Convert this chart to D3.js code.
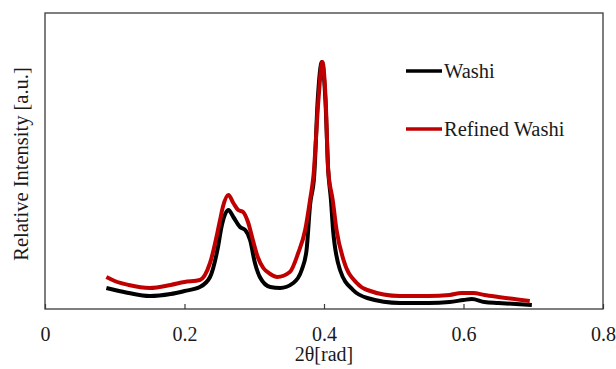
<!DOCTYPE html>
<html>
<head>
<meta charset="utf-8">
<script src="https://cdn.jsdelivr.net/npm/d3@7"></script>
<style>
  body { margin: 0; background: #fff; }
  svg text { font-family: "Times New Roman", "Liberation Serif", "DejaVu Serif", serif !important; fill: #1a1a1a; }
</style>
</head>
<body>
<div id="chart"></div>
<script>
var svgWidth = 616;
var svgHeight = 369;

var margin = { top: 13, right: 13, bottom: 60, left: 45 };
var width = svgWidth - margin.left - margin.right;
var height = svgHeight - margin.top - margin.bottom;

var serif = "'Times New Roman', 'Liberation Serif', 'DejaVu Serif', serif";

// 2θ values
var washiX = [0.088, 0.10, 0.12, 0.15, 0.18, 0.20, 0.222, 0.2366, 0.248, 0.253, 0.263, 0.270, 0.2796, 0.287, 0.294, 0.301, 0.308, 0.323, 0.337, 0.356, 0.368, 0.375, 0.380, 0.386, 0.391, 0.397, 0.402, 0.406, 0.410, 0.413, 0.423, 0.4416, 0.462, 0.509, 0.55, 0.58, 0.60, 0.612, 0.63, 0.65, 0.698];
var washiY = [21, 19, 16, 13, 15, 18, 22, 32, 62, 82, 99, 92, 82, 79, 69, 46, 32, 22, 21, 26, 39, 59, 104, 134, 209, 247, 209, 139, 109, 79, 39, 19, 11, 6, 6, 7, 9, 10, 7, 6, 4];

var refinedX = [0.088, 0.10, 0.12, 0.15, 0.18, 0.20, 0.222, 0.2366, 0.251, 0.255, 0.263, 0.270, 0.277, 0.284, 0.291, 0.298, 0.305, 0.313, 0.323, 0.333, 0.351, 0.363, 0.373, 0.380, 0.385, 0.392, 0.3976, 0.4024, 0.406, 0.4125, 0.418, 0.428, 0.447, 0.462, 0.509, 0.55, 0.58, 0.597, 0.614, 0.63, 0.65, 0.695];
var refinedY = [32, 28, 24, 21, 24, 27, 29, 46, 89, 102, 114, 106, 99, 97, 87, 69, 52, 41, 35, 32, 37, 56, 79, 109, 134, 209, 247, 209, 139, 109, 79, 49, 26, 19, 13, 13, 14, 16, 16, 14, 12, 8];

var xTicks = [0, 0.2, 0.4, 0.6, 0.8];
var seriesNames = ["Washi", "Refined Washi"];
var seriesColors = ["#000000", "#c00000"];

var svg = d3.select("#chart")
  .append("svg")
  .attr("width", svgWidth)
  .attr("height", svgHeight)
  .style("font-family", serif);

var chartGroup = svg.append("g")
  .attr("transform", `translate(${margin.left}, ${margin.top})`);

var xLinearScale = d3.scaleLinear().domain([0, 0.8]).range([0, width]);
var yLinearScale = d3.scaleLinear().domain([0, 296]).range([height, 0]);

// series
var series = [
  d3.zip(washiX, washiY),
  d3.zip(refinedX, refinedY)
];

var line = d3.line()
  .x(d => xLinearScale(d[0]))
  .y(d => yLinearScale(d[1]))
  .curve(d3.curveMonotoneX);

series.forEach(function(s, i) {
  chartGroup.append("path")
    .datum(s)
    .attr("fill", "none")
    .attr("stroke", seriesColors[i])
    .attr("stroke-width", 4)
    .attr("stroke-linejoin", "round")
    .attr("d", line);
});

// frame
chartGroup.append("rect")
  .attr("width", width)
  .attr("height", height)
  .attr("fill", "none")
  .attr("stroke", "#3a3a3a")
  .attr("stroke-width", 1.3);

// bottom axis, ticks inside
var bottomAxis = d3.axisBottom(xLinearScale)
  .tickValues(xTicks)
  .tickSize(-5)
  .tickFormat(d => d === 0 ? "0" : d3.format(".1f")(d));

var xAxis = chartGroup.append("g")
  .attr("transform", `translate(0, ${height})`)
  .call(bottomAxis)
  .attr("font-family", serif);

xAxis.select(".domain").remove();
xAxis.selectAll("line").attr("stroke", "#3a3a3a").attr("stroke-width", 1.2);
xAxis.selectAll("text")
  .attr("y", 32)
  .attr("dy", 0)
  .attr("font-size", "20px")
  .attr("fill", "#1a1a1a");

// axis titles
svg.append("text")
  .attr("x", margin.left + xLinearScale(0.4))
  .attr("y", 361)
  .attr("text-anchor", "middle")
  .attr("font-size", "20px")
  .text("2θ[rad]");

svg.append("text")
  .attr("transform", "rotate(-90)")
  .attr("x", -164)
  .attr("y", 28)
  .attr("text-anchor", "middle")
  .attr("font-size", "20.5px")
  .text("Relative Intensity [a.u.]");

// legend
var legend = svg.append("g");
seriesNames.forEach(function(name, i) {
  var ly = 71 + i * 58;
  legend.append("line")
    .attr("x1", 406).attr("x2", 442)
    .attr("y1", ly).attr("y2", ly)
    .attr("stroke", seriesColors[i])
    .attr("stroke-width", 3.4);
  legend.append("text")
    .attr("x", 444)
    .attr("y", ly + 6.5)
    .attr("font-size", "20.5px")
    .text(name);
});
</script>
</body>
</html>
